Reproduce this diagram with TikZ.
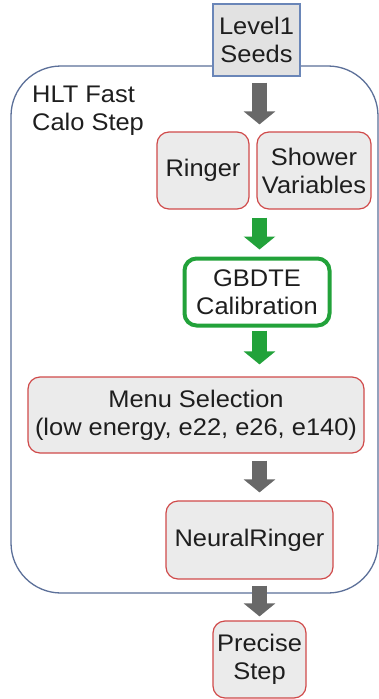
\documentclass[tikz,border=0pt]{standalone}
\usepackage{fontspec}
\setmainfont[FakeStretch=1.06]{Liberation Sans}
\usetikzlibrary{arrows.meta,calc}
\definecolor{txt}{HTML}{1E1E1E}
\definecolor{boxfill}{HTML}{EBEBEB}
\definecolor{seedfill}{HTML}{E2E2E2}
\definecolor{redline}{HTML}{D04A4A}
\definecolor{blueline}{HTML}{6A86B8}
\definecolor{frameline}{HTML}{5C7099}
\definecolor{arrgray}{HTML}{686868}
\definecolor{arrgreen}{HTML}{22A23A}
\tikzset{
  lbl/.style={font=\fontsize{24}{28}\selectfont, text=txt, align=center, inner sep=0pt},
  redbox/.style={lbl, draw=redline, line width=1.2pt, fill=boxfill, rounded corners=12pt},
  seedbox/.style={lbl, draw=blueline, line width=1.2pt, fill=seedfill},
  greenbox/.style={lbl, draw=arrgreen, line width=4pt, fill=white, rounded corners=12pt},
  fatarrow/.style={line width=15pt, -{Triangle[width=31pt,length=13pt]}},
  grayarrow/.style={fatarrow, draw=arrgray, arrgray},
  greenarrow/.style={fatarrow, draw=arrgreen, arrgreen},
}
\begin{document}
\begin{tikzpicture}[x=1pt,y=-1pt]
\useasboundingbox (0,0) rectangle (379,699);
\fill[white] (0,0) rectangle (379,699);

% outer frame of the fast calo step
\draw[frameline, line width=1.3pt, rounded corners=50pt] (11,66) rectangle (378,593);
\node[lbl, align=left, anchor=north west] (hlt) at (32,86) {HLT Fast\\Calo Step};

% boxes
\node[seedbox, minimum width=87pt, minimum height=72pt] (l1) at (256.5,40) {Level1\\Seeds};
\node[redbox, minimum width=92pt, minimum height=77pt] (ringer) at (203,170.5) {Ringer};
\node[redbox, minimum width=114pt, minimum height=77pt] (shower) at (314,170.5) {Shower\\Variables};
\node[greenbox, minimum width=145pt, minimum height=67pt] (gbdte) at (257,292) {GBDTE\\Calibration};
\node[redbox, minimum width=336pt, minimum height=76pt] (menu) at (196,415) {Menu Selection\\(low energy, e22, e26, e140)};
\node[redbox, minimum width=167pt, minimum height=78pt] (neural) at (249.5,540) {NeuralRinger};
\node[redbox, minimum width=93pt, minimum height=77pt] (precise) at (259.5,659.5) {Precise\\Step};

% flow arrows, all on one vertical axis
\coordinate (ax) at (259.5,0);
\draw[grayarrow, shorten <=6pt, shorten >=7pt] (ax |- l1.south) -- (ax |- ringer.north);
\draw[greenarrow, shorten <=8pt, shorten >=7pt] (ax |- ringer.south) -- (ax |- gbdte.north);
\draw[greenarrow, shorten <=3pt, shorten >=12pt] (ax |- gbdte.south) -- (ax |- menu.north);
\draw[grayarrow, shorten <=7pt, shorten >=8pt] (ax |- menu.south) -- (ax |- neural.north);
\draw[grayarrow, shorten <=6pt, shorten >=4pt] (ax |- neural.south) -- (ax |- precise.north);
\end{tikzpicture}
\end{document}
